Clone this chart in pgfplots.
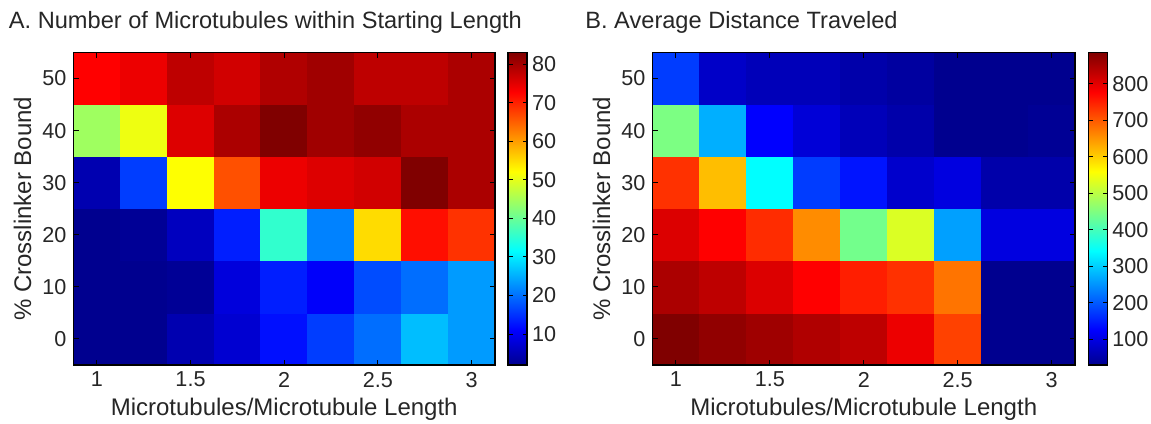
\documentclass[border=0pt]{standalone}
\usepackage{pgfplots}
\pgfplotsset{compat=1.18}
\usepackage{pgfplotstable}
\usepackage{fontspec}
\setmainfont{Liberation Sans}
\definecolor{txt}{RGB}{38,38,38}
\pgfplotsset{
  colormap={matjet}{rgb(0cm)=(0,0,0.5625) rgb(7cm)=(0,0,1) rgb(23cm)=(0,1,1) rgb(39cm)=(1,1,0) rgb(55cm)=(1,0,0) rgb(63cm)=(0.5,0,0)},
  /pgf/number format/assume math mode=true,
  colorbar shift/.style={xshift=6.2pt},
}

\pgfplotstableread{
x y c
1 0 2
1.25 0 2
1.5 0 4.6
1.75 0 7.3
2 0 12.2
2.25 0 15.9
2.5 0 19.9
2.75 0 26.3
3 0 23.5
1 10 2
1.25 10 2
1.5 10 2.5
1.75 10 8.2
2 10 13.4
2.25 10 10.6
2.5 10 17.1
2.75 10 19.9
3 10 23.5
1 20 2
1.25 20 2.5
1.5 20 5.8
1.75 20 13.4
2 20 35.5
2.25 20 21.5
2.5 20 55.0
2.75 20 71.6
3 20 68.7
1 30 4.6
1.25 30 15.9
1.5 30 52.1
1.75 30 66.3
2 30 74.2
2.25 30 75.5
2.5 30 76.4
2.75 30 83
3 30 79.5
1 40 44.4
1.25 40 50.8
1.5 40 75.5
1.75 40 79.5
2 40 83
2.25 40 80.4
2.5 40 81.6
2.75 40 79.5
3 40 79.5
1 50 72.7
1.25 50 74.2
1.5 50 78.0
1.75 50 76.4
2 50 79.1
2.25 50 80.4
2.5 50 78.0
2.75 50 78.0
3 50 79.5
}\tableA

\pgfplotstableread{
x y c
1 0 885
1.25 0 870
1.5 0 858
1.75 0 844
2 0 832
2.25 0 792
2.5 0 721
2.75 0 30
3 0 30
1 10 848
1.25 10 832
1.5 10 806
1.75 10 776
2 10 751
2.25 10 735
2.5 10 678
2.75 10 30
3 10 30
1 20 806
1.25 20 776
1.5 20 739
1.75 20 657
2 20 440
2.25 20 529
2.5 20 261
2.75 20 99
3 20 99
1 30 735
1.25 30 615
1.5 30 342
1.75 30 176
2 30 142
2.25 30 82
2.5 30 99
2.75 30 53
3 30 53
1 40 448
1.25 40 274
1.5 40 125
1.75 40 91
2 40 65
2.25 40 53
2.5 40 30
2.75 40 30
3 40 35
1 50 176
1.25 50 78
1.5 50 65
1.75 50 65
2 50 53
2.25 50 44
2.5 50 30
2.75 50 30
3 50 30
}\tableB

\begin{document}
\begin{tikzpicture}
\pgfplotsset{
  hm/.style={
    scale only axis,
    height=156.25pt,
    anchor=south west,
    xmin=0.875, xmax=3.125, ymin=-5, ymax=55,
    xtick={1,1.5,2,2.5,3}, xticklabels={1,1.5,2,2.5,3},
    ytick={0,10,20,30,40,50},
    tick align=inside, major tick length=2.6pt,
    tick style={black, line width=0.5pt},
    axis line style={black, line width=0.7pt},
    tick label style={font=\fontsize{10.8}{12}\selectfont, text=txt},
    label style={font=\fontsize{12}{14}\selectfont, text=txt},
    colormap name=matjet,
    colorbar,
    xlabel={Microtubules/Microtubule Length},
    ylabel={\% Crosslinker Bound},
    xlabel style={at={(axis description cs:0.5,-0.16)}, anchor=base},
    ylabel style={at={(axis description cs:-0.1003,0.5)}, anchor=base},
    axis on top,
  },
  cb/.style={
    colorbar style={
      scale only axis,
      width=9.5pt,
      height=156.25pt,
      tick align=inside,
      major tick length=2.2pt,
      tick style={black, line width=0.5pt},
      axis line style={black, line width=0.7pt},
      tick label style={font=\fontsize{10.8}{12}\selectfont, text=txt},
      yticklabel style={xshift=-1pt},
      #1
    }
  }
}
\begin{axis}[hm, at={(36.7pt,29pt)}, width=210.8pt,
  point meta min=2, point meta max=83,
  cb={ytick={10,20,...,80}}]
\addplot[matrix plot*, mesh/cols=9, point meta=explicit] table[meta=c] {\tableA};
\end{axis}
\begin{axis}[hm, at={(326.2pt,29pt)}, width=211.35pt,
  point meta min=30, point meta max=885,
  cb={ytick={100,200,...,800}}]
\addplot[matrix plot*, mesh/cols=9, point meta=explicit] table[meta=c] {\tableB};
\end{axis}
\node[anchor=base west, font=\fontsize{11.8}{14}\selectfont, text=txt, inner sep=0pt] at (4.3pt,197.3pt) {A. Number of Microtubules within Starting Length};
\node[anchor=base west, font=\fontsize{11.8}{14}\selectfont, text=txt, inner sep=0pt] at (292.5pt,197.3pt) {B. Average Distance Traveled};
\pgfresetboundingbox
\path[use as bounding box] (0pt,0pt) rectangle (575.5pt,211.5pt);
\end{tikzpicture}
\end{document}
